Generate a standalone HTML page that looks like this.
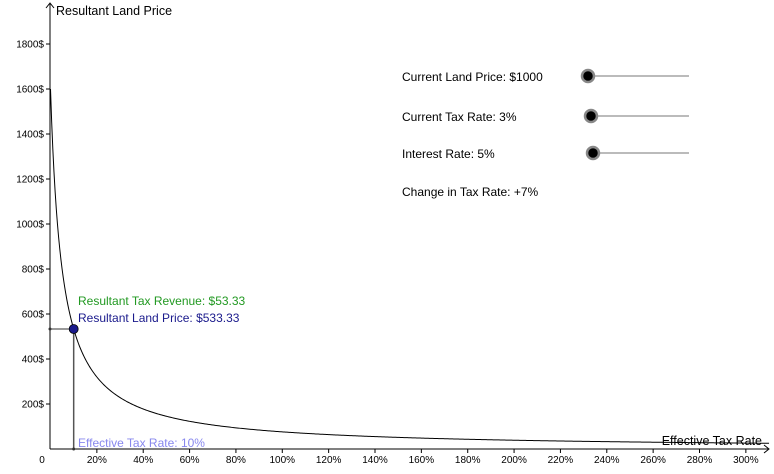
<!DOCTYPE html>
<html><head><meta charset="utf-8"><style>
html,body{margin:0;padding:0;background:#fff}
svg{display:block;font-family:"Liberation Sans",sans-serif}
</style></head><body>
<svg id="c" width="774" height="474" viewBox="0 0 774 474"></svg>
<script>
const xTicks=[20,40,60,80,100,120,140,160,180,200,220,240,260,280,300];
const yTicks=[200,400,600,800,1000,1200,1400,1600,1800];
const landPrice=[1000];
const taxRate=[3];
const interestRate=[5];
const taxChange=[7];
const sliderLabels=["Current Land Price: $1000","Current Tax Rate: 3%","Interest Rate: 5%"];

const NS="http://www.w3.org/2000/svg";
const svg=document.getElementById('c');
const X0=50.5, XS=(746-97)/280, Y0=449, YS=45/200;
const sx=v=>X0+v*XS, sy=v=>Y0-v*YS;
function mk(tag,attrs,parent){const e=document.createElementNS(NS,tag);for(const k in attrs)e.setAttribute(k,attrs[k]);(parent||svg).appendChild(e);return e;}
function txt(s,attrs){const e=mk('text',attrs);e.textContent=s;return e;}

// axes
let e=mk('line',{x1:50,y1:449,x2:768,y2:449,stroke:'#000','stroke-width':1});

e=mk('line',{x1:50,y1:449,x2:50,y2:4,stroke:'#000','stroke-width':1});

mk('path',{d:'M46,8 L50,3 L54,8',fill:'none',stroke:'#000'});
mk('path',{d:'M764,445 L769,449 L764,453',fill:'none',stroke:'#000'});
e=txt('Resultant Land Price',{x:56,y:15,'font-size':12.5,fill:'#000'});

e=txt('Effective Tax Rate',{x:762,y:445,'font-size':12.5,fill:'#000','text-anchor':'end'});

txt('0',{x:42,y:463,'font-size':10,fill:'#000','text-anchor':'middle'});
xTicks.forEach(v=>{
  mk('line',{x1:sx(v),y1:449,x2:sx(v),y2:453,stroke:'#000'});
  const t=txt(v+'%',{x:sx(v),y:463,'font-size':10,fill:'#000','text-anchor':'middle'});
  
});
yTicks.forEach(v=>{
  mk('line',{x1:46,y1:sy(v),x2:50,y2:sy(v),stroke:'#000'});
  const t=txt(v+'$',{x:44,y:sy(v)+3.5,'font-size':10,fill:'#000','text-anchor':'end'});
  
});

// curve
const P=landPrice[0], t0=taxRate[0]/100, i=interestRate[0]/100;
const price=t=>P*(t0+i)/(i+t/100);
let d='';
for(let t=0;t<=310;t+=0.5){d+=(t?'L':'M')+sx(t).toFixed(2)+','+sy(price(t)).toFixed(2);}
const cl=mk('clipPath',{id:'clip'});mk('rect',{x:50,y:0,width:724,height:449},cl);
e=mk('path',{d:d,fill:'none',stroke:'#000','stroke-width':1,'clip-path':'url(#clip)'});


// point
const tn=t0*100+taxChange[0], pn=price(tn);
mk('line',{x1:50,y1:sy(pn),x2:sx(tn),y2:sy(pn),stroke:'#333','stroke-width':1});
mk('line',{x1:sx(tn),y1:sy(pn),x2:sx(tn),y2:449,stroke:'#555','stroke-width':1.5});
mk('circle',{cx:50,cy:sy(pn),r:1.5,fill:'#333'});
mk('circle',{cx:sx(tn),cy:449,r:1.5,fill:'#333'});
e=mk('circle',{cx:sx(tn),cy:sy(pn),r:4.5,fill:'#1a1a8c',stroke:'#000','stroke-width':0.8});

e=txt('Resultant Tax Revenue: $'+(pn*tn/100).toFixed(2),{x:78,y:305,'font-size':12,fill:'#229922'});

e=txt('Resultant Land Price: $'+pn.toFixed(2),{x:78,y:322,'font-size':12,fill:'#1a1a8c'});

e=txt('Effective Tax Rate: '+tn+'%',{x:78,y:447,'font-size':12,fill:'#8888ee'});


// sliders
const sliderY=[76,116,153], knobX=[588,591,593];
sliderLabels.forEach((s,k)=>{
  const t=txt(s,{x:402,y:sliderY[k]+5,'font-size':12,fill:'#000'});
  
  mk('line',{x1:knobX[k],y1:sliderY[k],x2:689,y2:sliderY[k],stroke:'#777','stroke-width':1});
  const c=mk('circle',{cx:knobX[k],cy:sliderY[k],r:6,fill:'#000',stroke:'#888','stroke-width':2.5});
  
});
e=txt('Change in Tax Rate: +'+taxChange[0]+'%',{x:402,y:196,'font-size':12,fill:'#000'});

</script>
</body></html>
